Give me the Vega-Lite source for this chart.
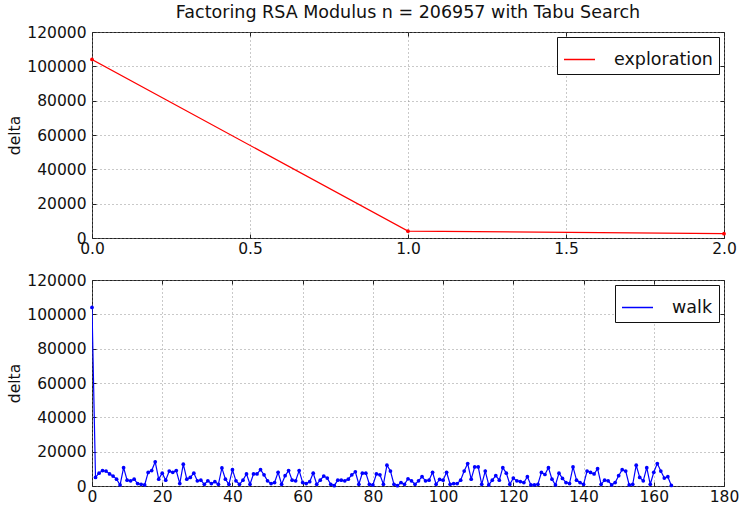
{
  "$schema": "https://vega.github.io/schema/vega-lite/v6.json",
  "padding": {"left": 7, "top": 3, "right": 3, "bottom": 0},
  "background": "white",
  "spacing": 15,
  "config": {
    "font": "DejaVu Sans",
    "view": {"stroke": "#222", "strokeWidth": 1},
    "axis": {
      "labelFont": "DejaVu Sans", "labelFontSize": 15.5, "labelColor": "#111", "labelFlush": false,
      "titleFont": "DejaVu Sans", "titleFontSize": 15.5, "titleFontWeight": "normal", "titleColor": "#111",
      "domain": false, "tickColor": "#222", "tickSize": -4, "labelPadding": 10,
      "gridColor": "#888", "gridDash": [1, 3], "gridWidth": 1, "gridOpacity": 0.9
    },
    "axisX": {"labelPadding": 7},
    "legend": {
      "orient": "top-right", "offset": 5, "title": null,
      "strokeColor": "#111", "fillColor": "white", "padding": 6, "cornerRadius": 0,
      "labelFont": "DejaVu Sans", "labelFontSize": 17.5, "labelColor": "#111", "labelOffset": 18,
      "symbolType": "stroke", "symbolSize": 961, "symbolStrokeWidth": 1.5
    }
  },
  "datasets": {
    "exp": [
      {"i": 0, "delta": 104000, "series": "exploration"},
      {"i": 1, "delta": 4000, "series": "exploration"},
      {"i": 2, "delta": 2500, "series": "exploration"}
    ],
    "walk": [
      {"i":0,"delta":104000,"series":"walk"},{"i":1,"delta":5000,"series":"walk"},{"i":2,"delta":7500,"series":"walk"},{"i":3,"delta":9000,"series":"walk"},{"i":4,"delta":8700,"series":"walk"},{"i":5,"delta":7000,"series":"walk"},{"i":6,"delta":5800,"series":"walk"},{"i":7,"delta":4000,"series":"walk"},{"i":8,"delta":600,"series":"walk"},{"i":9,"delta":10700,"series":"walk"},
      {"i":10,"delta":3400,"series":"walk"},{"i":11,"delta":3000,"series":"walk"},{"i":12,"delta":4000,"series":"walk"},{"i":13,"delta":1400,"series":"walk"},{"i":14,"delta":1000,"series":"walk"},{"i":15,"delta":600,"series":"walk"},{"i":16,"delta":7900,"series":"walk"},{"i":17,"delta":9000,"series":"walk"},{"i":18,"delta":14100,"series":"walk"},{"i":19,"delta":4000,"series":"walk"},
      {"i":20,"delta":7500,"series":"walk"},{"i":21,"delta":3400,"series":"walk"},{"i":22,"delta":8700,"series":"walk"},{"i":23,"delta":8000,"series":"walk"},{"i":24,"delta":9000,"series":"walk"},{"i":25,"delta":1400,"series":"walk"},{"i":26,"delta":12700,"series":"walk"},{"i":27,"delta":4000,"series":"walk"},{"i":28,"delta":5000,"series":"walk"},{"i":29,"delta":7500,"series":"walk"},
      {"i":30,"delta":3000,"series":"walk"},{"i":31,"delta":3400,"series":"walk"},{"i":32,"delta":1000,"series":"walk"},{"i":33,"delta":3000,"series":"walk"},{"i":34,"delta":1400,"series":"walk"},{"i":35,"delta":2500,"series":"walk"},{"i":36,"delta":1000,"series":"walk"},{"i":37,"delta":10500,"series":"walk"},{"i":38,"delta":4000,"series":"walk"},{"i":39,"delta":1000,"series":"walk"},
      {"i":40,"delta":9500,"series":"walk"},{"i":41,"delta":3000,"series":"walk"},{"i":42,"delta":1000,"series":"walk"},{"i":43,"delta":3400,"series":"walk"},{"i":44,"delta":7000,"series":"walk"},{"i":45,"delta":1000,"series":"walk"},{"i":46,"delta":7000,"series":"walk"},{"i":47,"delta":7000,"series":"walk"},{"i":48,"delta":9500,"series":"walk"},{"i":49,"delta":6500,"series":"walk"},
      {"i":50,"delta":3000,"series":"walk"},{"i":51,"delta":1400,"series":"walk"},{"i":52,"delta":2000,"series":"walk"},{"i":53,"delta":8000,"series":"walk"},{"i":54,"delta":1000,"series":"walk"},{"i":55,"delta":6000,"series":"walk"},{"i":56,"delta":9000,"series":"walk"},{"i":57,"delta":3400,"series":"walk"},{"i":58,"delta":3000,"series":"walk"},{"i":59,"delta":9000,"series":"walk"},
      {"i":60,"delta":2000,"series":"walk"},{"i":61,"delta":1400,"series":"walk"},{"i":62,"delta":2500,"series":"walk"},{"i":63,"delta":7500,"series":"walk"},{"i":64,"delta":1000,"series":"walk"},{"i":65,"delta":3400,"series":"walk"},{"i":66,"delta":5800,"series":"walk"},{"i":67,"delta":4600,"series":"walk"},{"i":68,"delta":1000,"series":"walk"},{"i":69,"delta":200,"series":"walk"},
      {"i":70,"delta":3400,"series":"walk"},{"i":71,"delta":3400,"series":"walk"},{"i":72,"delta":3000,"series":"walk"},{"i":73,"delta":4000,"series":"walk"},{"i":74,"delta":6500,"series":"walk"},{"i":75,"delta":8300,"series":"walk"},{"i":76,"delta":1000,"series":"walk"},{"i":77,"delta":7500,"series":"walk"},{"i":78,"delta":7500,"series":"walk"},{"i":79,"delta":1000,"series":"walk"},
      {"i":80,"delta":600,"series":"walk"},{"i":81,"delta":7000,"series":"walk"},{"i":82,"delta":6500,"series":"walk"},{"i":83,"delta":1000,"series":"walk"},{"i":84,"delta":12100,"series":"walk"},{"i":85,"delta":8700,"series":"walk"},{"i":86,"delta":1000,"series":"walk"},{"i":87,"delta":200,"series":"walk"},{"i":88,"delta":2000,"series":"walk"},{"i":89,"delta":1000,"series":"walk"},
      {"i":90,"delta":4200,"series":"walk"},{"i":91,"delta":3000,"series":"walk"},{"i":92,"delta":1000,"series":"walk"},{"i":93,"delta":3000,"series":"walk"},{"i":94,"delta":5400,"series":"walk"},{"i":95,"delta":3000,"series":"walk"},{"i":96,"delta":3400,"series":"walk"},{"i":97,"delta":8000,"series":"walk"},{"i":98,"delta":1000,"series":"walk"},{"i":99,"delta":3800,"series":"walk"},
      {"i":100,"delta":3400,"series":"walk"},{"i":101,"delta":8000,"series":"walk"},{"i":102,"delta":1000,"series":"walk"},{"i":103,"delta":1400,"series":"walk"},{"i":104,"delta":1400,"series":"walk"},{"i":105,"delta":3400,"series":"walk"},{"i":106,"delta":8700,"series":"walk"},{"i":107,"delta":13100,"series":"walk"},{"i":108,"delta":4000,"series":"walk"},{"i":109,"delta":11100,"series":"walk"},
      {"i":110,"delta":11100,"series":"walk"},{"i":111,"delta":1000,"series":"walk"},{"i":112,"delta":8700,"series":"walk"},{"i":113,"delta":600,"series":"walk"},{"i":114,"delta":3400,"series":"walk"},{"i":115,"delta":6000,"series":"walk"},{"i":116,"delta":3400,"series":"walk"},{"i":117,"delta":10700,"series":"walk"},{"i":118,"delta":7500,"series":"walk"},{"i":119,"delta":1000,"series":"walk"},
      {"i":120,"delta":4600,"series":"walk"},{"i":121,"delta":3000,"series":"walk"},{"i":122,"delta":2600,"series":"walk"},{"i":123,"delta":2000,"series":"walk"},{"i":124,"delta":5400,"series":"walk"},{"i":125,"delta":600,"series":"walk"},{"i":126,"delta":600,"series":"walk"},{"i":127,"delta":1000,"series":"walk"},{"i":128,"delta":7900,"series":"walk"},{"i":129,"delta":6700,"series":"walk"},
      {"i":130,"delta":10700,"series":"walk"},{"i":131,"delta":4000,"series":"walk"},{"i":132,"delta":600,"series":"walk"},{"i":133,"delta":7500,"series":"walk"},{"i":134,"delta":4400,"series":"walk"},{"i":135,"delta":2000,"series":"walk"},{"i":136,"delta":1400,"series":"walk"},{"i":137,"delta":11100,"series":"walk"},{"i":138,"delta":3400,"series":"walk"},{"i":139,"delta":2000,"series":"walk"},
      {"i":140,"delta":1000,"series":"walk"},{"i":141,"delta":8700,"series":"walk"},{"i":142,"delta":7900,"series":"walk"},{"i":143,"delta":7000,"series":"walk"},{"i":144,"delta":10100,"series":"walk"},{"i":145,"delta":1000,"series":"walk"},{"i":146,"delta":3400,"series":"walk"},{"i":147,"delta":3000,"series":"walk"},{"i":148,"delta":600,"series":"walk"},{"i":149,"delta":2000,"series":"walk"},
      {"i":150,"delta":6000,"series":"walk"},{"i":151,"delta":9500,"series":"walk"},{"i":152,"delta":8700,"series":"walk"},{"i":153,"delta":600,"series":"walk"},{"i":154,"delta":1000,"series":"walk"},{"i":155,"delta":12100,"series":"walk"},{"i":156,"delta":5000,"series":"walk"},{"i":157,"delta":3000,"series":"walk"},{"i":158,"delta":10700,"series":"walk"},{"i":159,"delta":1000,"series":"walk"},
      {"i":160,"delta":8000,"series":"walk"},{"i":161,"delta":13100,"series":"walk"},{"i":162,"delta":8700,"series":"walk"},{"i":163,"delta":4600,"series":"walk"},{"i":164,"delta":5400,"series":"walk"},{"i":165,"delta":300,"series":"walk"}
    ]
  },
  "vconcat": [
    {
      "width": 632,
      "height": 206,
      "title": {"text": "Factoring RSA Modulus n = 206957 with Tabu Search", "font": "DejaVu Sans", "fontSize": 17.5, "fontWeight": "normal", "color": "#111", "offset": 4},
      "data": {"name": "exp"},
      "layer": [
        {
          "mark": {"type": "line", "strokeWidth": 1.2, "clip": true},
          "encoding": {
            "x": {"field": "i", "type": "quantitative", "scale": {"domain": [0, 2], "nice": false, "zero": false},
                  "axis": {"orient": "bottom", "title": null, "values": [0, 0.5, 1, 1.5, 2], "format": ".1f", "grid": true}},
            "y": {"field": "delta", "type": "quantitative", "scale": {"domain": [0, 120000], "nice": false},
                  "axis": {"orient": "left", "title": "delta", "values": [0, 20000, 40000, 60000, 80000, 100000, 120000], "format": "d", "grid": true}},
            "color": {"field": "series", "type": "nominal", "scale": {"domain": ["exploration"], "range": ["#ff0000"]}, "legend": {}}
          }
        },
        {
          "mark": {"type": "point", "filled": true, "size": 14, "opacity": 1},
          "encoding": {
            "x": {"field": "i", "type": "quantitative",
                  "axis": {"orient": "top", "title": null, "labels": false, "grid": false, "values": [0, 0.5, 1, 1.5, 2]}},
            "y": {"field": "delta", "type": "quantitative",
                  "axis": {"orient": "right", "title": null, "labels": false, "grid": false, "values": [0, 20000, 40000, 60000, 80000, 100000, 120000]}},
            "color": {"field": "series", "type": "nominal"}
          }
        }
      ],
      "resolve": {"axis": {"x": "independent", "y": "independent"}}
    },
    {
      "width": 632,
      "height": 206,
      "data": {"name": "walk"},
      "layer": [
        {
          "mark": {"type": "line", "strokeWidth": 1.2, "clip": true},
          "encoding": {
            "x": {"field": "i", "type": "quantitative", "scale": {"domain": [0, 180], "nice": false, "zero": false},
                  "axis": {"orient": "bottom", "title": null, "values": [0, 20, 40, 60, 80, 100, 120, 140, 160, 180], "grid": true}},
            "y": {"field": "delta", "type": "quantitative", "scale": {"domain": [0, 120000], "nice": false},
                  "axis": {"orient": "left", "title": "delta", "values": [0, 20000, 40000, 60000, 80000, 100000, 120000], "format": "d", "grid": true}},
            "color": {"field": "series", "type": "nominal", "scale": {"domain": ["walk"], "range": ["#0000ff"]}, "legend": {}}
          }
        },
        {
          "mark": {"type": "point", "filled": true, "size": 14, "opacity": 1},
          "encoding": {
            "x": {"field": "i", "type": "quantitative",
                  "axis": {"orient": "top", "title": null, "labels": false, "grid": false, "values": [0, 20, 40, 60, 80, 100, 120, 140, 160, 180]}},
            "y": {"field": "delta", "type": "quantitative",
                  "axis": {"orient": "right", "title": null, "labels": false, "grid": false, "values": [0, 20000, 40000, 60000, 80000, 100000, 120000]}},
            "color": {"field": "series", "type": "nominal"}
          }
        }
      ],
      "resolve": {"axis": {"x": "independent", "y": "independent"}}
    }
  ],
  "resolve": {"scale": {"color": "independent"}, "legend": {"color": "independent"}}
}
